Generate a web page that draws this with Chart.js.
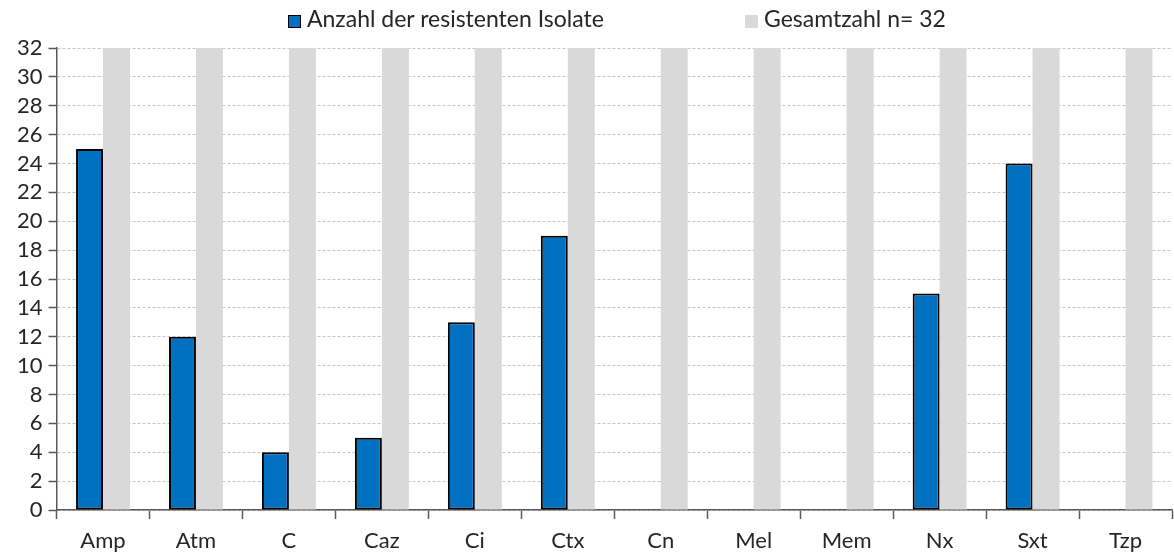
<!DOCTYPE html>
<html lang="de">
<head>
<meta charset="UTF-8" />
<title>Resistente Isolate</title>
<script src="https://cdn.jsdelivr.net/npm/chart.js@4"></script>
<style>
  html, body { margin: 0; padding: 0; background: #fff; }
  #wrap { position: relative; width: 1174px; height: 556px; }
  .leg { position: absolute; top: 5px; font-family: Lato, "Open Sans", sans-serif; font-size: 23px; color: #262626; white-space: nowrap; line-height: 26px; }
  .leg i { display: inline-block; width: 11px; height: 11px; margin-right: 6px; vertical-align: -1px; }
</style>
</head>
<body>
<div id="wrap">
  <canvas id="chart" width="1174" height="556"></canvas>
  <div class="leg" style="left:288px"><i style="background:#0070c0;border:1.5px solid #000;"></i>Anzahl der resistenten Isolate</div>
  <div class="leg" style="left:745px"><i style="background:#d9d9d9;width:13px;height:13px;"></i>Gesamtzahl n= 32</div>
</div>
<script>
const categories = ["Amp", "Atm", "C", "Caz", "Ci", "Ctx", "Cn", "Mel", "Mem", "Nx", "Sxt", "Tzp"];
const resistant = [25, 12, 4, 5, 13, 19, 0, 0, 0, 15, 24, 0];
const total = [32, 32, 32, 32, 32, 32, 32, 32, 32, 32, 32, 32];
const yTicks = [0, 2, 4, 6, 8, 10, 12, 14, 16, 18, 20, 22, 24, 26, 28, 30, 32];

const font = { family: "Lato, 'Open Sans', sans-serif", size: 22 };

new Chart(document.getElementById("chart"), {
  type: "bar",
  data: {
    labels: categories,
    datasets: [
      {
        label: "Anzahl der resistenten Isolate",
        data: resistant,
        backgroundColor: "#0070c0",
        borderColor: "#000",
        borderWidth: (ctx) => (ctx.raw ? 2 : 0),
        borderSkipped: false,
      },
      {
        label: "Gesamtzahl n= 32",
        data: total,
        backgroundColor: "#d9d9d9",
        borderWidth: 0,
      },
    ],
  },
  options: {
    responsive: false,
    animation: false,
    datasets: { bar: { categoryPercentage: 0.58, barPercentage: 1 } },
    layout: { padding: { top: 48, left: 11, right: 2, bottom: 0 } },
    plugins: {
      legend: { display: false },
      tooltip: { enabled: false },
    },
    scales: {
      x: {
        offset: true,
        afterFit: (axis) => { axis.height = 46; },
        grid: { offset: true, drawOnChartArea: false, tickLength: 9, tickColor: "#595959", tickWidth: 1.5 },
        border: { color: "#595959", width: 1.5 },
        ticks: { color: "#262626", font: font, padding: 9 },
      },
      y: {
        min: 0,
        max: 32,
        afterBuildTicks: (axis) => { axis.ticks = yTicks.map((v) => ({ value: v })); },
        grid: { color: "#c4c4c4", tickColor: "#595959", tickLength: 8, tickWidth: 1.5, tickBorderDash: [] },
        border: { color: "#595959", width: 1.5, dash: [3, 2] },
        ticks: { color: "#262626", font: font, padding: 6, autoSkip: false },
      },
    },
  },
});
</script>
</body>
</html>
